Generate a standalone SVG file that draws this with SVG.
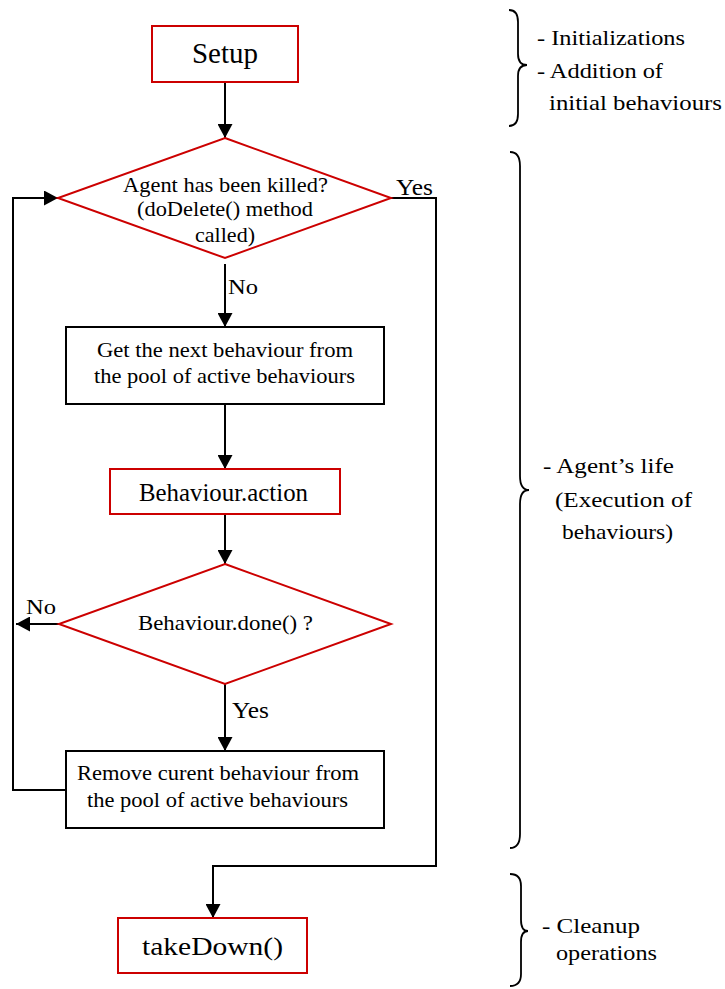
<svg xmlns="http://www.w3.org/2000/svg" width="725" height="989" viewBox="0 0 725 989">
  <style>
    .red { fill: #fff; stroke: #cc0000; stroke-width: 2; }
    .blk { fill: #fff; stroke: #000; stroke-width: 2; }
    .conn { fill: none; stroke: #000; stroke-width: 2; }
    .brace { fill: none; stroke: #000; stroke-width: 1.8; }
  </style>
  <defs>
    <marker id="arrow" markerUnits="userSpaceOnUse" markerWidth="15" markerHeight="15" refX="14" refY="7.5" orient="auto">
      <path d="M0,0 L14,7.5 L0,15 z" fill="#000"/>
    </marker>
  </defs>

  <rect width="725" height="989" fill="#fff"/>

  <!-- connectors -->
  <g id="connectors" class="conn">
    <path d="M225,82 L225,138" marker-end="url(#arrow)"/>
    <path d="M225,264 L225,327" marker-end="url(#arrow)"/>
    <path d="M225,404 L225,469" marker-end="url(#arrow)"/>
    <path d="M225,514 L225,564" marker-end="url(#arrow)"/>
    <path d="M225,684 L225,751" marker-end="url(#arrow)"/>
    <path d="M59,624 L16,624" marker-end="url(#arrow)"/>
    <path d="M66,790 L13,790 L13,198 L58,198" marker-end="url(#arrow)"/>
    <path d="M390,198 L436,198 L436,866 L213,866 L213,918" marker-end="url(#arrow)"/>
  </g>

  <g font-family="Liberation Serif" fill="#000">
    <!-- connector labels -->
    <g id="labels">
      <text x="396" y="195" font-size="23" textLength="37" lengthAdjust="spacingAndGlyphs">Yes</text>
      <text x="228" y="294" font-size="22" textLength="30" lengthAdjust="spacingAndGlyphs">No</text>
      <text x="26" y="614" font-size="22" textLength="30" lengthAdjust="spacingAndGlyphs">No</text>
      <text x="232" y="718" font-size="23" textLength="37" lengthAdjust="spacingAndGlyphs">Yes</text>
    </g>

    <g id="setup">
      <rect class="red" x="152" y="26" width="146" height="56"/>
      <text x="192" y="63" font-size="29" textLength="66" lengthAdjust="spacingAndGlyphs">Setup</text>
    </g>

    <g id="killed-check">
      <polygon class="red" points="225,138 391,198 225,258 58,198"/>
      <text x="123" y="192" font-size="21" textLength="205" lengthAdjust="spacingAndGlyphs">Agent has been killed?</text>
      <text x="137" y="216" font-size="21" textLength="176" lengthAdjust="spacingAndGlyphs">(doDelete() method</text>
      <text x="195" y="242" font-size="21" textLength="60" lengthAdjust="spacingAndGlyphs">called)</text>
    </g>

    <g id="next-behaviour">
      <rect class="blk" x="66" y="327" width="318" height="77"/>
      <text x="97" y="357" font-size="21" textLength="256" lengthAdjust="spacingAndGlyphs">Get the next behaviour from</text>
      <text x="94" y="383" font-size="21" textLength="261" lengthAdjust="spacingAndGlyphs">the pool of active behaviours</text>
    </g>

    <g id="action">
      <rect class="red" x="110" y="469" width="230" height="45"/>
      <text x="139" y="501" font-size="25" textLength="169" lengthAdjust="spacingAndGlyphs">Behaviour.action</text>
    </g>

    <g id="done-check">
      <polygon class="red" points="225,564 391,624 225,684 59,624"/>
      <text x="138" y="630" font-size="21" textLength="175" lengthAdjust="spacingAndGlyphs">Behaviour.done() ?</text>
    </g>

    <g id="remove-behaviour">
      <rect class="blk" x="66" y="751" width="318" height="77"/>
      <text x="77" y="780" font-size="21" textLength="282" lengthAdjust="spacingAndGlyphs">Remove curent behaviour from</text>
      <text x="87" y="807" font-size="21" textLength="261" lengthAdjust="spacingAndGlyphs">the pool of active behaviours</text>
    </g>

    <g id="takedown">
      <rect class="red" x="118" y="918" width="189" height="55"/>
      <text x="142" y="955" font-size="26" textLength="141" lengthAdjust="spacingAndGlyphs">takeDown()</text>
    </g>

    <!-- phase braces with notes -->
    <g id="phase-init">
      <path class="brace" d="M509,10 Q518,10 518,22 L518,54 Q518,65 527,65 Q518,65 518,76 L518,114 Q518,126 509,126"/>
      <text x="537" y="45" font-size="22" textLength="148" lengthAdjust="spacingAndGlyphs">- Initializations</text>
      <text x="537" y="78" font-size="22" textLength="126" lengthAdjust="spacingAndGlyphs">- Addition of</text>
      <text x="549" y="110" font-size="22" textLength="173" lengthAdjust="spacingAndGlyphs">initial behaviours</text>
    </g>

    <g id="phase-life">
      <path class="brace" d="M510,152 Q520,152 520,166 L520,476 Q520,490 529,490 Q520,490 520,504 L520,834 Q520,848 510,848"/>
      <text x="543" y="473" font-size="22" textLength="131" lengthAdjust="spacingAndGlyphs">- Agent’s life</text>
      <text x="555" y="507" font-size="22" textLength="137" lengthAdjust="spacingAndGlyphs">(Execution of</text>
      <text x="562" y="539" font-size="22" textLength="111" lengthAdjust="spacingAndGlyphs">behaviours)</text>
    </g>

    <g id="phase-cleanup">
      <path class="brace" d="M510,874 Q521,874 521,886 L521,920 Q521,931 528,931 Q521,931 521,942 L521,974 Q521,986 510,986"/>
      <text x="542" y="933" font-size="22" textLength="98" lengthAdjust="spacingAndGlyphs">- Cleanup</text>
      <text x="556" y="960" font-size="22" textLength="101" lengthAdjust="spacingAndGlyphs">operations</text>
    </g>
  </g>
</svg>
